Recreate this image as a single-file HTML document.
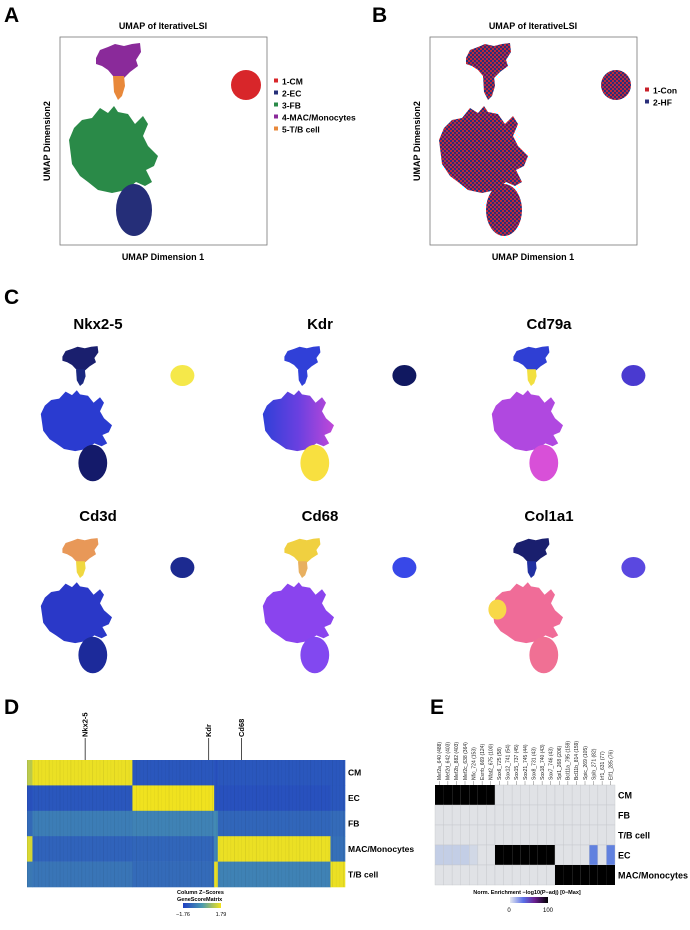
<!DOCTYPE html>
<html><head><meta charset="utf-8"><style>
html,body{margin:0;padding:0;background:#fff;}
svg text{font-family:"Liberation Sans",Arial,sans-serif;}
</style></head><body>
<svg id="fig" width="690" height="925" viewBox="0 0 690 925" xmlns="http://www.w3.org/2000/svg">
<defs>
<pattern id="mix" width="4" height="4" patternUnits="userSpaceOnUse">
<rect width="4" height="4" fill="#c0283a"/><rect x="0" y="0" width="2" height="2" fill="#2a2f7a"/><rect x="2" y="2" width="2" height="2" fill="#2a2f7a"/>
</pattern>
<linearGradient id="kdrMain" x1="0" x2="1" y1="0" y2="0"><stop offset="0" stop-color="#2f40d8"/><stop offset="0.5" stop-color="#6a40e0"/><stop offset="1" stop-color="#c048d8"/></linearGradient>
<linearGradient id="zcb" x1="0" x2="1"><stop offset="0" stop-color="#1f3fc2"/><stop offset="0.5" stop-color="#4a9ab0"/><stop offset="1" stop-color="#f4e41c"/></linearGradient>
<linearGradient id="ecb" x1="0" x2="1"><stop offset="0" stop-color="#e4e8f0"/><stop offset="0.35" stop-color="#5a70e8"/><stop offset="0.65" stop-color="#6a2090"/><stop offset="1" stop-color="#000"/></linearGradient>
</defs>

<text x="4" y="22" font-size="21" font-weight="bold">A</text>
<text x="372" y="22" font-size="21" font-weight="bold">B</text>
<text x="4" y="304" font-size="21" font-weight="bold">C</text>
<text x="4" y="714" font-size="21" font-weight="bold">D</text>
<text x="430" y="714" font-size="21" font-weight="bold">E</text>

<g>
<text x="163" y="29" font-size="9" font-weight="bold" text-anchor="middle">UMAP of IterativeLSI</text>
<rect x="60" y="37" width="207" height="208" fill="none" stroke="#777" stroke-width="0.8"/>
<g id="umapA"></g>
<text x="163" y="260" font-size="9" font-weight="bold" text-anchor="middle">UMAP Dimension 1</text>
<text x="50" y="141" font-size="9" font-weight="bold" text-anchor="middle" transform="rotate(-90 50 141)">UMAP Dimension2</text>
<g id="legendA"></g>
</g>

<g>
<text x="533" y="29" font-size="9" font-weight="bold" text-anchor="middle">UMAP of IterativeLSI</text>
<rect x="430" y="37" width="207" height="208" fill="none" stroke="#777" stroke-width="0.8"/>
<g id="umapB"></g>
<text x="533" y="260" font-size="9" font-weight="bold" text-anchor="middle">UMAP Dimension 1</text>
<text x="420" y="141" font-size="9" font-weight="bold" text-anchor="middle" transform="rotate(-90 420 141)">UMAP Dimension2</text>
<g id="legendB"></g>
</g>

<g id="panelC"></g>
<g id="panelD"></g>
<g id="panelE"></g>
</svg>
<script>
// ---------- data ----------
const clusterNames = ["1-CM","2-EC","3-FB","4-MAC/Monocytes","5-T/B cell"];
const clusterColors = ["#d8262a","#252e78","#2a8a48","#8a2a9a","#e8883a"];
const sampleNames = ["1-Con","2-HF"];
const sampleColors = ["#c8202a","#2a2f7a"];
const genes = ["Nkx2-5","Kdr","Cd79a","Cd3d","Cd68","Col1a1"];
const geneTop   = ["#1a1f6e","#3040d8","#2f3fd4","#e89858","#f0d040","#1a1f6e"];
const geneStem  = ["#1a2880","#3040d8","#f2e040","#f0d840","#e8b060","#2030a0"];
const geneRight = ["#f5e84a","#101860","#4a3ad0","#1c2a90","#3848e8","#5a48e0"];
const geneMain  = ["#2a3bd0","url(#kdrMain)","#b048e0","#2a38c8","#8a44ee","#f06c98"];
const geneLower = ["#141a6a","#f8e040","#d850d8","#1c2a9a","#8248f0","#f07094"];

const hmRows = ["CM","EC","FB","MAC/Monocytes","T/B cell"];
const hmSegCounts = [3, 55, 45, 2, 62, 8];
const hmCM  = [ 1.2, 1.70,-1.30,-1.40,-1.30,-1.3];
const hmEC  = [-1.4,-1.30, 1.75,-1.40,-1.40,-1.3];
const hmFB  = [-0.9,-0.55,-0.45,-0.30,-1.00,-0.9];
const hmMAC = [ 1.5,-1.05,-1.00,-0.40, 1.70,-0.8];
const hmTB  = [-0.6,-0.70,-0.90, 1.70,-0.45, 1.7];
const hmGenes = ["Nkx2-5","Kdr","Cd68"];
const hmGeneCol = [32, 100, 118];

const motifs = ["Mef2a_640 (488)","Mef2d_642 (403)","Mef2b_882 (403)","Mef2c_638 (364)","Nfic_724 (153)","Esrrb_669 (124)","Nfat2_675 (100)","Sox6_725 (58)","Sox12_741 (54)","Sox15_737 (45)","Sox21_745 (44)","Sox8_731 (43)","Sox18_740 (43)","Sox7_746 (43)","Spi1_268 (206)","Bcl11a_795 (159)","Bcl11b_814 (159)","Spic_269 (105)","Spib_271 (82)","Irf1_631 (77)","Elf1_285 (76)"];
const enrRows = ["CM","FB","T/B cell","EC","MAC/Monocytes"];
const enrCM  = [100,100,100,100,100,100,100,0,0,0,0,0,0,0,0,0,0,0,0,0,0];
const enrFB  = [0,0,0,0,0,0,0,0,0,0,0,0,0,0,0,0,0,0,0,0,0];
const enrTB  = [0,0,0,0,0,0,0,0,0,0,0,0,0,0,0,0,0,0,0,0,0];
const enrEC  = [8,8,8,8,4,0,0,100,100,100,100,100,100,100,0,0,0,0,38,0,38];
const enrMAC = [0,0,0,0,0,0,0,0,0,0,0,0,0,0,100,100,100,100,100,100,100];

// ---------- helpers ----------
const NS="http://www.w3.org/2000/svg";
function mk(tag, attrs, parent){const e=document.createElementNS(NS,tag);for(const k in attrs)e.setAttribute(k,attrs[k]);parent.appendChild(e);return e;}

const shTop="M96,58 L100,50 L108,47 L115,44 L124,46 L132,44 L140,43 L141,52 L136,60 L138,66 L130,72 L124,78 L113,76 L108,70 L102,66 L96,64 Z";
const shStem="M113,76 L124,76 L125,86 L122,96 L118,100 L114,92 Z";
const shGreen="M69,140 L74,128 L82,120 L92,118 L100,108 L108,113 L114,106 L118,112 L128,114 L135,124 L143,116 L148,124 L143,136 L148,146 L158,156 L154,166 L146,170 L152,182 L145,186 L136,182 L126,190 L112,193 L98,190 L88,182 L80,176 L72,164 Z";
const shLower="M116,210 A18,26 0 1,0 152,210 A18,26 0 1,0 116,210 Z";
function drawUmap(g, tf, cols){
  const w=mk('g',{transform:tf},g);
  const parts=[["umap-top-cluster",shTop,cols[0]],["umap-stem",shStem,cols[1]],["umap-main-cluster",shGreen,cols[3]],["umap-lower-cluster",shLower,cols[4]]];
  parts.forEach(p=>{const e=mk('path',{d:p[1],fill:p[2]},w);
    
    });
  const c=mk('circle',{cx:246,cy:85,r:15,fill:cols[2]},w);
  
  
}

drawUmap(document.getElementById('umapA'),'',[clusterColors[3],clusterColors[4],clusterColors[0],clusterColors[2],clusterColors[1]]);
const lgA=document.getElementById('legendA');
clusterNames.forEach((n,i)=>{const y=82+i*12;
  const r=mk('rect',{x:274,y:y-3.5,width:4,height:4,fill:clusterColors[i]},lgA);
  
  
  const t=mk('text',{x:282,y:y+2.5,'font-size':8.5,'font-weight':'bold'},lgA);t.textContent=n;
  
  });
drawUmap(document.getElementById('umapB'),'translate(370,0)',['url(#mix)','url(#mix)','url(#mix)','url(#mix)','url(#mix)']);
const lgB=document.getElementById('legendB');
sampleNames.forEach((n,i)=>{const y=91+i*12;
  const r=mk('rect',{x:645,y:y-3.5,width:4,height:4,fill:sampleColors[i]},lgB);
  
  
  const t=mk('text',{x:653,y:y+2.5,'font-size':8.5,'font-weight':'bold'},lgB);t.textContent=n;
  
  });

// Panel C
const pc=document.getElementById('panelC');
genes.forEach((gname,i)=>{
  const col=i%3,row=Math.floor(i/3);
  const dx=col===0?0:(col===1?222:451), dy=row*192;
  const cx=98+dx, cy=329+dy;
  const t=mk('text',{x:cx,y:cy,'font-size':15,'font-weight':'bold','text-anchor':'middle'},pc);t.textContent=gname;
  
  
  const g=mk('g',{},pc);
  
  
  const sx=0.8, sy=0.7, ox=80+dx, oy=358+dy;
  drawUmap(g,`translate(${ox - sx*118},${oy - sy*60}) scale(${sx},${sy})`,[geneTop[i],geneStem[i],geneRight[i],geneMain[i],geneLower[i]]);
  if(i===5){const y=mk('ellipse',{cx:ox+sx*(76-118),cy:oy+sy*(145-60),rx:9,ry:10,fill:"#f8d848"},g);
    
    }
});

// Panel D heatmap
const pd=document.getElementById('panelD');
const hmX0=27,hmX1=345,hmY0=760,hmRowH=25.4;
const totalCols=hmSegCounts.reduce((a,b)=>a+b,0);
const xCol=c=>hmX0+(hmX1-hmX0)*c/totalCols;
function zColor(v){
  const t=Math.max(0,Math.min(1,(v+1.76)/(1.79+1.76)));
  const st=[[0,[31,63,194]],[0.5,[74,154,176]],[1,[244,228,28]]];
  let a=st[0],b=st[1]; if(t>0.5){a=st[1];b=st[2];}
  const f=(t-a[0])/(b[0]-a[0]);
  const c=a[1].map((x,k)=>Math.round(x+(b[1][k]-x)*f));
  return `rgb(${c[0]},${c[1]},${c[2]})`;}
const hmVals=[hmCM,hmEC,hmFB,hmMAC,hmTB];
hmVals.forEach((vals,r)=>{
  let c0=0;
  vals.forEach((v,s)=>{
    const cell=mk('rect',{x:xCol(c0),y:hmY0+r*hmRowH,width:xCol(c0+hmSegCounts[s])-xCol(c0)+0.3,height:hmRowH+0.3,fill:zColor(v)},pd);
    
    
    c0+=hmSegCounts[s];});
  const lab=mk('text',{x:348,y:hmY0+r*hmRowH+hmRowH/2+3,'font-size':8.5,'font-weight':'bold'},pd);lab.textContent=hmRows[r];
  
  
});
for(let c=0;c<totalCols;c+=2){mk('rect',{x:xCol(c),y:hmY0,width:0.6,height:hmRowH*5,fill:'#000',opacity:(c%6===0?0.10:0.05)},pd);}
hmGenes.forEach((gn,i)=>{
  const x=xCol(hmGeneCol[i]);
  const ln=mk('line',{x1:x,x2:x,y1:hmY0-22,y2:hmY0,stroke:'#000','stroke-width':0.7},pd);
  
  
  const t=mk('text',{x:x+2.5,y:hmY0-23,'font-size':7.5,'font-weight':'bold',transform:`rotate(-90 ${x+2.5} ${hmY0-23})`},pd);t.textContent=gn;
  
  
});
[["Column Z−Scores",894],["GeneScoreMatrix",901]].forEach(a=>{const t=mk('text',{x:177,y:a[1],'font-size':5.5,'font-weight':'bold'},pd);t.textContent=a[0];
  
  });
const cbD=mk('rect',{x:183,y:903,width:38,height:5,fill:'url(#zcb)'},pd);


[["−1.76",183],["1.79",221]].forEach(a=>{const t=mk('text',{x:a[1],y:916,'font-size':5.5,'text-anchor':'middle'},pd);t.textContent=a[0];
  
  });

// Panel E heatmap
const pe=document.getElementById('panelE');
const eX0=435,eX1=615,eY0=785,eRowH=20;
const cw=(eX1-eX0)/motifs.length;
function eColor(v){
  const st=[[0,[224,226,230]],[35,[96,140,232]],[65,[106,32,144]],[100,[0,0,0]]];
  let i=0;while(i<st.length-2&&v>st[i+1][0])i++;
  const a=st[i],b=st[i+1],f=Math.max(0,Math.min(1,(v-a[0])/(b[0]-a[0])));
  const c=a[1].map((x,k)=>Math.round(x+(b[1][k]-x)*f));
  return `rgb(${c[0]},${c[1]},${c[2]})`;}
const enrVals=[enrCM,enrFB,enrTB,enrEC,enrMAC];
enrVals.forEach((vals,r)=>{
  vals.forEach((v,c)=>{
    const cell=mk('rect',{x:eX0+c*cw,y:eY0+r*eRowH,width:cw,height:eRowH,fill:eColor(v),stroke:v>90?'none':'#c4c6ca','stroke-width':0.4},pe);
    
    });
  const lab=mk('text',{x:618,y:eY0+r*eRowH+eRowH/2+3.5,'font-size':9,'font-weight':'bold'},pe);lab.textContent=enrRows[r];
  
  
});
motifs.forEach((m,c)=>{
  const x=eX0+c*cw+cw/2;
  mk('line',{x1:x,x2:x,y1:eY0-4,y2:eY0,stroke:'#555','stroke-width':0.4},pe);
  const t=mk('text',{x:x+1.8,y:eY0-5,'font-size':5,fill:'#222',transform:`rotate(-90 ${x+1.8} ${eY0-5})`},pe);t.textContent=m;
  
  
});
const et=mk('text',{x:527,y:894,'font-size':5.5,'font-weight':'bold','text-anchor':'middle'},pe);et.textContent="Norm. Enrichment −log10(P−adj) [0−Max]";


const cbE=mk('rect',{x:510,y:897,width:38,height:6,fill:'url(#ecb)'},pe);


[["0",509],["100",548]].forEach(a=>{const t=mk('text',{x:a[1],y:912,'font-size':6,'text-anchor':'middle'},pe);t.textContent=a[0];
  
  });
</script>
</body></html>
